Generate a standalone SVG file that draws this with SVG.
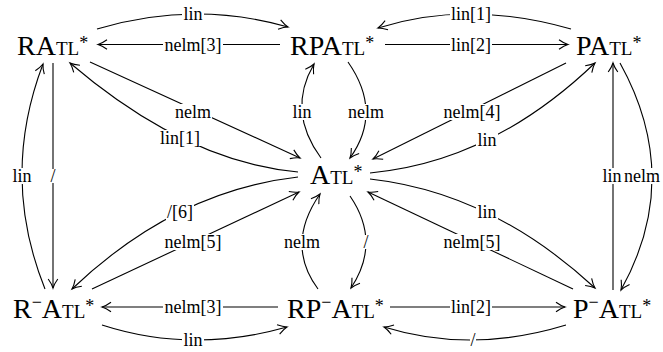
<svg xmlns="http://www.w3.org/2000/svg" width="663" height="352" viewBox="0 0 663 352">
<style>
text{font-family:'Liberation Serif','Times New Roman','DejaVu Serif',serif}
.node{font-size:28px;fill:#000}
.sc{font-size:19px}
.sup{font-size:18px}
.lbl{font-size:18px;fill:#000;text-anchor:middle}
.bg{fill:#fff}
.e{fill:none;stroke:#000;stroke-width:1.1;marker-end:url(#arr)}
</style>
<defs>
<marker id="arr" markerUnits="userSpaceOnUse" markerWidth="20" markerHeight="20" viewBox="-10 -10 20 20" refX="0" refY="0" orient="auto" overflow="visible">
<path d="M-9,-4.8 Q-4,-1.2 0,0 Q-4,1.2 -9,4.8" fill="none" stroke="#000" stroke-width="1.1"/>
</marker>
</defs>
<g id="connectors">
<path class="e" d="M97,29 Q193.5,0 288,27"/>
<path class="e" d="M280,44.5 L98,44.5"/>
<path class="e" d="M571,29 Q467.5,-0.5 378,28"/>
<path class="e" d="M385,44.5 L568,44.5"/>
<path class="e" d="M45,289 Q0,177 43,64"/>
<path class="e" d="M53,63 L53,288"/>
<path class="e" d="M613,290 L613,63"/>
<path class="e" d="M620,63 Q683.5,177.5 621,290"/>
<path class="e" d="M90,62 L300,158"/>
<path class="e" d="M298,172 Q186,162 70,63"/>
<path class="e" d="M348,62 Q383,112 350,158"/>
<path class="e" d="M321,158 Q286.5,111 314,64"/>
<path class="e" d="M566,63 L373,159"/>
<path class="e" d="M370,173 Q491.5,162 595,63"/>
<path class="e" d="M298,177 Q175,191 72,289"/>
<path class="e" d="M92,289 L299,192"/>
<path class="e" d="M318,289 Q285,244.5 320,194"/>
<path class="e" d="M350,196 Q381.5,242 351,288"/>
<path class="e" d="M370,179 Q491.5,192.5 595,288"/>
<path class="e" d="M573,289 L368,192"/>
<path class="e" d="M278,307 L102,307"/>
<path class="e" d="M102,325 Q191.5,354 287,327"/>
<path class="e" d="M390,307 L565,307"/>
<path class="e" d="M566,325 Q471,354 384,327"/>
</g>
<g id="edge-labels">
<rect class="bg" x="182" y="6" width="22" height="16"/><text class="lbl" x="193" y="20">lin</text>
<rect class="bg" x="163" y="37" width="60" height="16"/><text class="lbl" x="193" y="51">nelm[3]</text>
<rect class="bg" x="450" y="6" width="42" height="16"/><text class="lbl" x="471" y="20">lin[1]</text>
<rect class="bg" x="450" y="37" width="42" height="16"/><text class="lbl" x="471" y="51">lin[2]</text>
<rect class="bg" x="11" y="168" width="22" height="16"/><text class="lbl" x="22" y="182">lin</text>
<rect class="bg" x="50" y="169" width="6" height="14"/><text class="lbl" x="53" y="182">/</text>
<rect class="bg" x="601" y="168" width="22" height="16"/><text class="lbl" x="612" y="182">lin</text>
<rect class="bg" x="623" y="168" width="38" height="16"/><text class="lbl" x="642" y="182">nelm</text>
<rect class="bg" x="174" y="104" width="38" height="16"/><text class="lbl" x="193" y="118">nelm</text>
<rect class="bg" x="159" y="130" width="42" height="16"/><text class="lbl" x="180" y="144">lin[1]</text>
<rect class="bg" x="347" y="104" width="38" height="16"/><text class="lbl" x="366" y="118">nelm</text>
<rect class="bg" x="291" y="104" width="22" height="16"/><text class="lbl" x="302" y="118">lin</text>
<rect class="bg" x="442" y="104" width="60" height="16"/><text class="lbl" x="472" y="118">nelm[4]</text>
<rect class="bg" x="476" y="132" width="22" height="16"/><text class="lbl" x="487" y="146">lin</text>
<rect class="bg" x="166" y="204" width="28" height="16"/><text class="lbl" x="180" y="218">/[6]</text>
<rect class="bg" x="163" y="234" width="60" height="16"/><text class="lbl" x="193" y="248">nelm[5]</text>
<rect class="bg" x="283" y="234" width="38" height="16"/><text class="lbl" x="302" y="248">nelm</text>
<rect class="bg" x="363" y="235" width="6" height="14"/><text class="lbl" x="366" y="248">/</text>
<rect class="bg" x="476" y="204" width="22" height="16"/><text class="lbl" x="487" y="218">lin</text>
<rect class="bg" x="442" y="234" width="60" height="16"/><text class="lbl" x="472" y="248">nelm[5]</text>
<rect class="bg" x="163" y="299" width="60" height="16"/><text class="lbl" x="193" y="313">nelm[3]</text>
<rect class="bg" x="182" y="332" width="22" height="16"/><text class="lbl" x="193" y="346">lin</text>
<rect class="bg" x="450" y="299" width="42" height="16"/><text class="lbl" x="471" y="313">lin[2]</text>
<rect class="bg" x="470" y="333" width="6" height="14"/><text class="lbl" x="473" y="346">/</text>
</g>
<g id="node-RATL"><text class="node" x="17" y="55">RA<tspan class="sc">TL</tspan><tspan class="sup" dy="-6">*</tspan></text></g>
<g id="node-RPATL"><text class="node" x="290" y="55">RPA<tspan class="sc">TL</tspan><tspan class="sup" dy="-6">*</tspan></text></g>
<g id="node-PATL"><text class="node" x="576" y="55">PA<tspan class="sc">TL</tspan><tspan class="sup" dy="-6">*</tspan></text></g>
<g id="node-ATL"><text class="node" x="310" y="184">A<tspan class="sc">TL</tspan><tspan class="sup" dy="-6">*</tspan></text></g>
<g id="node-RmATL"><text class="node" x="13" y="318">R<tspan class="sup" dy="-10.5">−</tspan><tspan dy="10.5">A</tspan><tspan class="sc">TL</tspan><tspan class="sup" dy="-6">*</tspan></text></g>
<g id="node-RPmATL"><text class="node" x="287" y="318">RP<tspan class="sup" dy="-10.5">−</tspan><tspan dy="10.5">A</tspan><tspan class="sc">TL</tspan><tspan class="sup" dy="-6">*</tspan></text></g>
<g id="node-PmATL"><text class="node" x="573" y="318">P<tspan class="sup" dy="-10.5">−</tspan><tspan dy="10.5">A</tspan><tspan class="sc">TL</tspan><tspan class="sup" dy="-6">*</tspan></text></g>
</svg>
